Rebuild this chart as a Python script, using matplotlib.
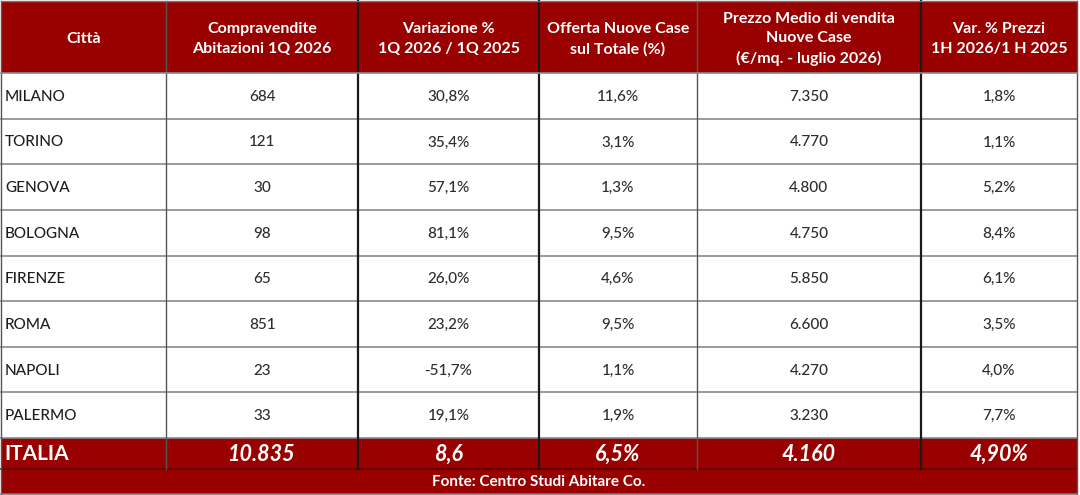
import matplotlib
matplotlib.use("Agg")
import matplotlib.pyplot as plt
from matplotlib.patches import Rectangle

plt.rcParams['font.family'] = ['Lato', 'DejaVu Sans']

# --- data ---
headers = ["Città",
           "Compravendite\nAbitazioni 1Q 2026",
           "Variazione %\n1Q 2026 / 1Q 2025",
           "Offerta Nuove Case\nsul Totale (%)",
           "Prezzo Medio di vendita\nNuove Case\n(€/mq. - luglio 2026)",
           "Var. % Prezzi\n1H 2026/1 H 2025"]
cities = ["MILANO", "TORINO", "GENOVA", "BOLOGNA", "FIRENZE", "ROMA", "NAPOLI", "PALERMO"]
compravendite = [684, 121, 30, 98, 65, 851, 23, 33]
variazione = [30.8, 35.4, 57.1, 81.1, 26.0, 23.2, -51.7, 19.1]
offerta = [11.6, 3.1, 1.3, 9.5, 4.6, 9.5, 1.1, 1.9]
prezzo = [7350, 4770, 4800, 4750, 5850, 6600, 4270, 3230]
var_prezzi = [1.8, 1.1, 5.2, 8.4, 6.1, 3.5, 4.0, 7.7]
totale = ["ITALIA", "10.835", "8,6", "6,5%", "4.160", "4,90%"]
fonte = "Fonte: Centro Studi Abitare Co."

def pct(v):
    return "{:.1f}%".format(v).replace(".", ",")

def thousands(v):
    return "{:,}".format(v).replace(",", ".")

rows = []
for i in range(len(cities)):
    rows.append([cities[i], thousands(compravendite[i]), pct(variazione[i]),
                 pct(offerta[i]), thousands(prezzo[i]), pct(var_prezzi[i])])

# --- layout (pixels) ---
red = '#990000'
col_x = [1, 166, 358, 539, 697, 921, 1077]
head_top, head_bot = 1, 73
row_h = (438 - 73) / len(cities)
tot_bot = 469
bottom = 494

fig = plt.figure(figsize=(10.8, 4.95), dpi=100)
ax = fig.add_axes([0, 0, 1, 1])
ax.set_xlim(0, 1080)
ax.set_ylim(495, 0)
ax.axis('off')

# header
ax.add_patch(Rectangle((col_x[0], head_top), col_x[-1] - col_x[0], head_bot - head_top,
                       facecolor=red, edgecolor='none'))
for j, h in enumerate(headers):
    cx = (col_x[j] + col_x[j + 1]) / 2
    ax.text(cx, (head_top + head_bot) / 2 + 2, h, ha='center', va='center',
            color='white', fontsize=11.5, fontweight='bold', linespacing=1.5)

# body rows
for i, r in enumerate(rows):
    y0 = head_bot + i * row_h
    yc = y0 + row_h / 2 + 1
    for j, val in enumerate(r):
        if j == 0:
            ax.text(col_x[0] + 4, yc, val, ha='left', va='center', color='#1e1e1e',
                    fontsize=11, fontweight='medium')
        else:
            cx = (col_x[j] + col_x[j + 1]) / 2
            ax.text(cx, yc, val, ha='center', va='center', color='#2e2e2e',
                    fontsize=11, fontweight='medium')
    ax.plot([col_x[0], col_x[-1]], [y0 + row_h, y0 + row_h], color='#8a8a8a', lw=1.2)

# total row + source row
y_tot = head_bot + len(cities) * row_h
ax.add_patch(Rectangle((col_x[0], y_tot), col_x[-1] - col_x[0], bottom - y_tot,
                       facecolor=red, edgecolor='none'))
ax.plot([col_x[0], col_x[-1]], [tot_bot, tot_bot], color='#5a0000', lw=1.2)
for j, val in enumerate(totale):
    yc = (y_tot + tot_bot) / 2 + 1
    if j == 0:
        ax.text(col_x[0] + 3, yc, val, ha='left', va='center', color='white',
                fontsize=15, fontweight='bold')
    else:
        cx = (col_x[j] + col_x[j + 1]) / 2
        ax.text(cx, yc, val, ha='center', va='center', color='white',
                fontsize=15.5, fontweight='bold', style='italic')
ax.text((col_x[0] + col_x[-1]) / 2, (tot_bot + bottom) / 2 + 1, fonte, ha='center',
        va='center', color='white', fontsize=11, fontweight='bold')

# vertical grid lines
dark = [False, False, True, True, False, True, False]
for j, x in enumerate(col_x):
    y_end = bottom if j in (0, len(col_x) - 1) else tot_bot
    ax.plot([x, x], [head_top, y_end], color='#1a1a1a' if dark[j] else '#555555',
            lw=1.6 if dark[j] else 1.0)
ax.plot([col_x[0], col_x[-1]], [head_bot, head_bot], color='#8a8a8a', lw=1.2)
ax.plot([col_x[0], col_x[-1]], [bottom, bottom], color='#777777', lw=1.2)
ax.plot([col_x[0], col_x[-1]], [head_top, head_top], color='#777777', lw=1.0)

fig.savefig('out.png', dpi=100, facecolor='white')
